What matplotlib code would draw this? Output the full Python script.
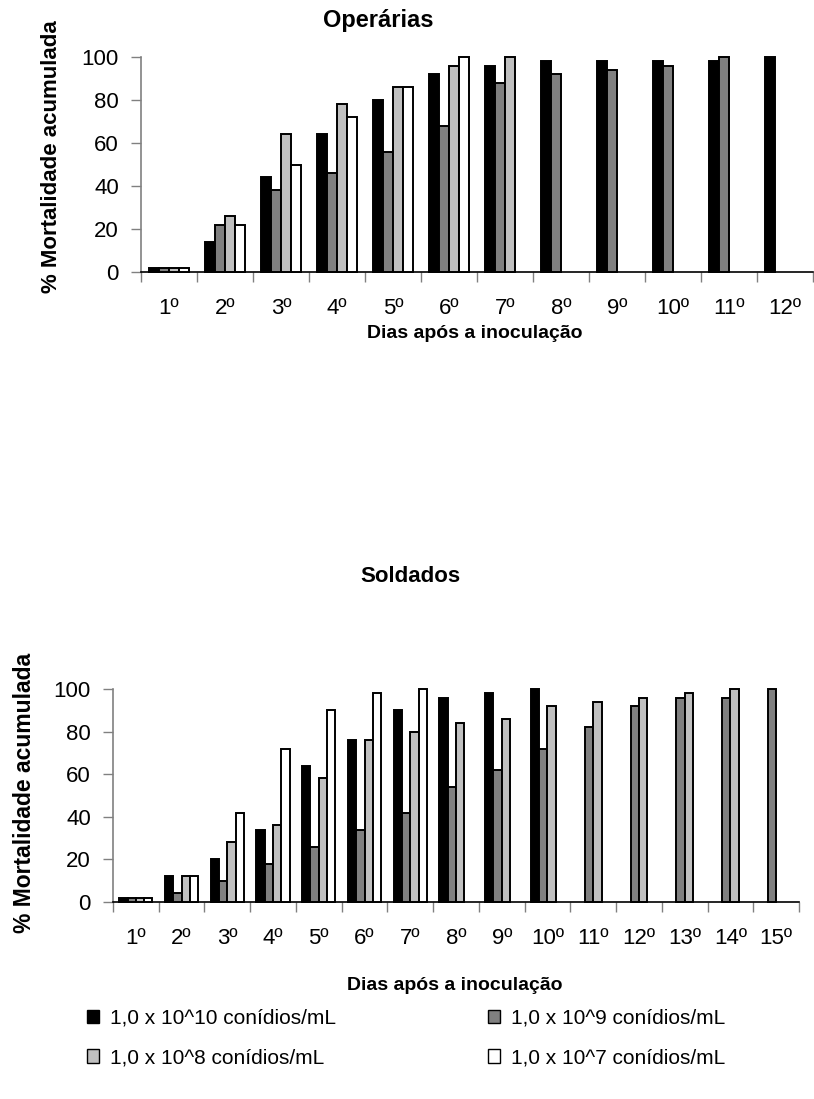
import numpy as np
import matplotlib
matplotlib.use("Agg")
import matplotlib.pyplot as plt
from matplotlib.patches import Patch

plt.rcParams['font.family'] = ['Liberation Sans', 'DejaVu Sans']

nan = np.nan

# doses (conídios/mL)
doses = ["1,0 x 10^10 conídios/mL", "1,0 x 10^9 conídios/mL",
         "1,0 x 10^8 conídios/mL", "1,0 x 10^7 conídios/mL"]
colors = ["#000000", "#808080", "#C0C0C0", "#FFFFFF"]

# Operárias - mortalidade acumulada (%) por dia
dias_op = [f"{i}º" for i in range(1, 13)]
op_1e10 = [2, 14, 44, 64, 80, 92, 96, 98, 98, 98, 98, 100]
op_1e9 = [2, 22, 38, 46, 56, 68, 88, 92, 94, 96, 100, nan]
op_1e8 = [2, 26, 64, 78, 86, 96, 100, nan, nan, nan, nan, nan]
op_1e7 = [2, 22, 50, 72, 86, 100, nan, nan, nan, nan, nan, nan]

# Soldados - mortalidade acumulada (%) por dia
dias_sd = [f"{i}º" for i in range(1, 16)]
sd_1e10 = [2, 12, 20, 34, 64, 76, 90, 96, 98, 100, nan, nan, nan, nan, nan]
sd_1e9 = [2, 4, 10, 18, 26, 34, 42, 54, 62, 72, 82, 92, 96, 96, 100]
sd_1e8 = [2, 12, 28, 36, 58, 76, 80, 84, 86, 92, 94, 96, 98, 100, nan]
sd_1e7 = [2, 12, 42, 72, 90, 98, 100, nan, nan, nan, nan, nan, nan, nan, nan]

fig = plt.figure(figsize=(8.14, 10.99), dpi=100)
W, H = 814, 1099


def axes_px(left, top, right, bottom):
    return fig.add_axes([left / W, 1 - bottom / H, (right - left) / W, (bottom - top) / H])


def bar_chart(ax, labels, series):
    n = len(labels)
    x = np.arange(n)
    w = 1 / 5.5
    for k, (vals, c) in enumerate(zip(series, colors)):
        ax.bar(x + (k - 1.5) * w, vals, width=w, color=c, edgecolor="black",
               linewidth=1.4, clip_on=False, zorder=3)
    ax.set_xlim(-0.5, n - 0.5)
    ax.set_ylim(0, 100)
    ax.set_yticks([0, 20, 40, 60, 80, 100])
    ax.set_xticks(x)
    ax.set_xticklabels(labels, fontsize=16)
    ax.set_xticks(np.arange(n + 1) - 0.5, minor=True)
    ax.tick_params(axis="x", which="major", length=0, pad=19)
    ax.tick_params(axis="x", which="minor", length=7, color="#808080", width=1)
    ax.tick_params(axis="y", length=7, color="#808080", width=1, pad=9, labelsize=16)
    for s in ["top", "right"]:
        ax.spines[s].set_visible(False)
    ax.spines["left"].set_color("#808080")
    ax.spines["bottom"].set_color("black")
    ax.spines["left"].set_linewidth(1.2)
    ax.spines["bottom"].set_linewidth(1.2)


ax1 = axes_px(141, 57, 813, 272)
bar_chart(ax1, dias_op, [op_1e10, op_1e9, op_1e8, op_1e7])
ax2 = axes_px(113, 689, 799, 902)
bar_chart(ax2, dias_sd, [sd_1e10, sd_1e9, sd_1e8, sd_1e7])

bold = dict(fontweight="bold", ha="center", va="center")
fig.text(378 / W, 1 - 20 / H, "Operárias", fontsize=17, **bold)
fig.text(410 / W, 1 - 577 / H, "Soldados", fontsize=16, **bold)
fig.text(475 / W, 1 - 334 / H, "Dias após a inoculação", fontsize=14, **bold)
fig.text(455 / W, 1 - 985 / H, "Dias após a inoculação", fontsize=14, **bold)
fig.text(52 / W, 1 - 157 / H, "% Mortalidade acumulada", fontsize=16, rotation=90, **bold)
fig.text(25 / W, 1 - 793 / H, "% Mortalidade acumulada", fontsize=16.5, rotation=90, **bold)

handles = [Patch(facecolor=c, edgecolor="black", linewidth=1.0) for c in colors]
order = [0, 2, 1, 3]
fig.legend([handles[i] for i in order], [doses[i] for i in order],
           ncol=2, loc="center left", bbox_to_anchor=(68 / W, 1 - 1038 / H),
           frameon=False, fontsize=15, handlelength=0.6, handleheight=0.6,
           handletextpad=0.5, columnspacing=7.3, labelspacing=1.0)

fig.savefig("out.png", dpi=100)
